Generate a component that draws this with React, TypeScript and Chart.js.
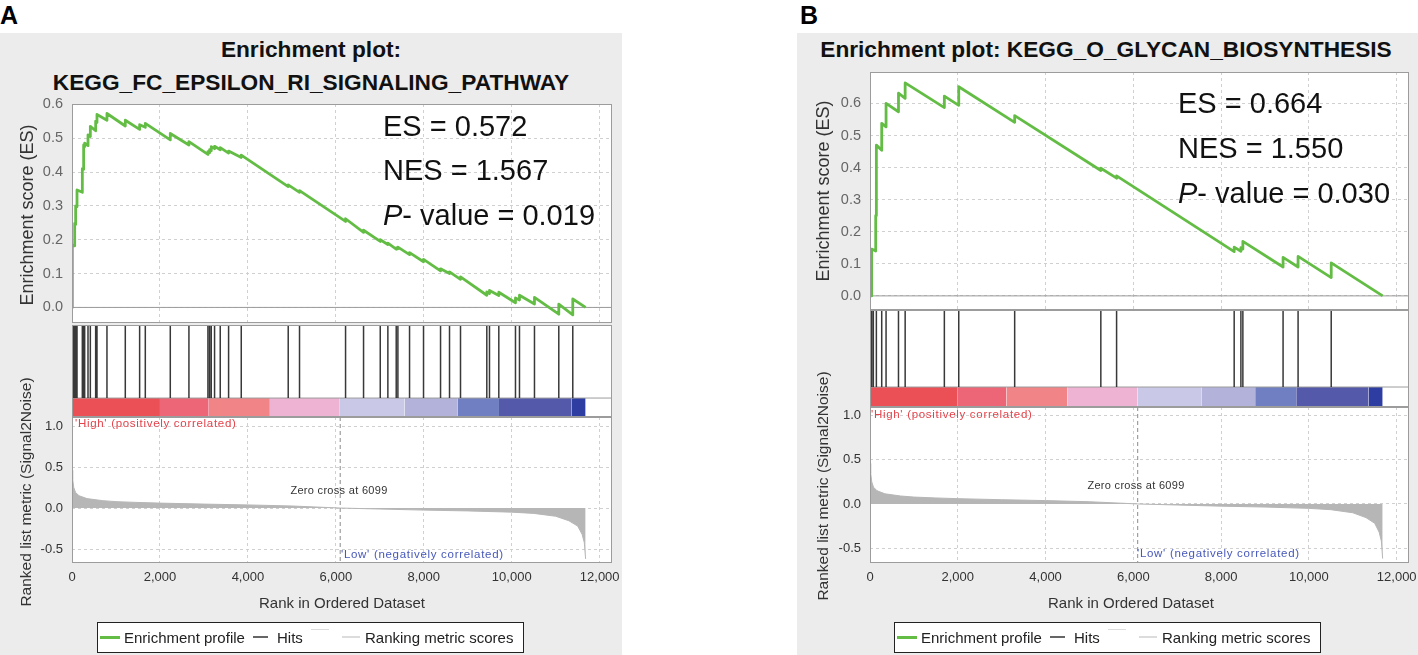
import React, { useEffect, useRef } from "react";
import { Chart, registerables } from "chart.js";

Chart.register(...registerables);

// ---------------- data ----------------
const RANK_MAX = 12280;
const zeroCross = 6099;
const xTickValues = [0, 2000, 4000, 6000, 8000, 10000, 12000];
const xTickLabels = ["0", "2,000", "4,000", "6,000", "8,000", "10,000", "12,000"];
const esTickValues = [0, 0.1, 0.2, 0.3, 0.4, 0.5, 0.6];
const esTickLabels = ["0.0", "0.1", "0.2", "0.3", "0.4", "0.5", "0.6"];
const metricTickValues = [-0.5, 0, 0.5, 1.0];
const metricTickLabels = ["-0.5", "0.0", "0.5", "1.0"];

const titleA = ["Enrichment plot:", "KEGG_FC_EPSILON_RI_SIGNALING_PATHWAY"];
const titleB = ["Enrichment plot: KEGG_O_GLYCAN_BIOSYNTHESIS"];
const statsA = ["0.572", "1.567", "0.019"];
const statsB = ["0.664", "1.550", "0.030"];

// running enrichment score [rank, ES]
const esCurveA: number[][] = [
  [0, 0], [8, 0], [8, 0.184], [61, 0.182], [61, 0.248], [83, 0.245], [83, 0.3], [114, 0.298], [114, 0.347],
  [235, 0.34], [235, 0.41], [265, 0.408], [265, 0.48], [288, 0.475], [288, 0.485], [364, 0.478], [364, 0.51],
  [417, 0.505], [417, 0.535], [538, 0.522], [538, 0.55], [568, 0.546], [568, 0.57], [795, 0.553], [795, 0.573],
  [1212, 0.536], [1212, 0.553], [1538, 0.526], [1538, 0.54], [1667, 0.532], [1667, 0.544], [2235, 0.495],
  [2235, 0.514], [2659, 0.48], [2659, 0.49], [3091, 0.452], [3091, 0.46], [3129, 0.457], [3129, 0.466],
  [3167, 0.463], [3167, 0.475], [3242, 0.469], [3242, 0.476], [3371, 0.466], [3371, 0.472], [3561, 0.456],
  [3561, 0.462], [3849, 0.443], [3849, 0.45], [4917, 0.357], [4917, 0.362], [5174, 0.34], [5174, 0.345],
  [6221, 0.254], [6221, 0.262], [6630, 0.222], [6630, 0.228], [7010, 0.195], [7010, 0.2], [7183, 0.186],
  [7183, 0.19], [7373, 0.172], [7373, 0.176], [7411, 0.173], [7411, 0.178], [7676, 0.156], [7676, 0.162],
  [7994, 0.135], [7994, 0.142], [8381, 0.108], [8381, 0.114], [8585, 0.1], [8585, 0.105], [8835, 0.083],
  [8835, 0.09], [9433, 0.036], [9433, 0.046], [9494, 0.041], [9494, 0.05], [9706, 0.035], [9706, 0.045],
  [10085, 0.014], [10085, 0.028], [10176, 0.022], [10176, 0.036], [10517, 0.01], [10517, 0.03],
  [11070, -0.02], [11070, 0.01], [11388, -0.022], [11388, 0.025], [11680, 0],
];
const hitsA = [
  8, 38, 61, 83, 114, 235, 265, 288, 364, 417, 538, 568, 795, 1212, 1538, 1667, 2235, 2659, 3091, 3129,
  3167, 3242, 3371, 3561, 3849, 4917, 5174, 6221, 6630, 7010, 7183, 7373, 7411, 7676, 7994, 8381, 8585,
  8835, 9433, 9494, 9706, 10085, 10176, 10517, 11070, 11388,
];

const esCurveB: number[][] = [
  [0, 0], [38, 0], [38, 0.146], [130, 0.14], [130, 0.25], [145, 0.25], [145, 0.47], [267, 0.454], [267, 0.538],
  [366, 0.527], [366, 0.6], [649, 0.574], [649, 0.632], [801, 0.616], [801, 0.664], [1694, 0.587], [1694, 0.623],
  [2022, 0.594], [2022, 0.652], [3296, 0.541], [3296, 0.562], [5259, 0.391], [5259, 0.398], [5618, 0.367],
  [5618, 0.374], [8297, 0.138], [8297, 0.152], [8450, 0.139], [8450, 0.15], [8495, 0.146], [8495, 0.17],
  [9411, 0.09], [9411, 0.12], [9753, 0.09], [9753, 0.123], [10508, 0.057], [10508, 0.103], [11680, 0],
];
const hitsB = [38, 76, 145, 267, 366, 649, 801, 1694, 2022, 3296, 5259, 5618, 8297, 8450, 8495, 9411, 9753, 10508];

// ranked list metric (Signal2Noise) [rank, value]
const metricCurve: number[][] = [
  [0, 0.46], [15, 0.35], [40, 0.25], [80, 0.19], [160, 0.15], [340, 0.115], [700, 0.09], [1000, 0.078],
  [1500, 0.068], [2000, 0.06], [3000, 0.048], [4000, 0.038], [5000, 0.025], [6099, 0.0], [7000, -0.012],
  [8000, -0.025], [9000, -0.035], [10000, -0.05], [10500, -0.065], [11000, -0.1], [11300, -0.155],
  [11500, -0.22], [11600, -0.32], [11650, -0.42], [11680, -0.62],
];

// colour bar segment edges (ranks)
const barEdges = [0, 2000, 3110, 4500, 6090, 7560, 8775, 9710, 11355, 11680];

// ---------------- styles ----------------
const FONT = "'Liberation Sans', Arial, Helvetica, sans-serif";
const GREEN = "#63bd45";
const BAR_COLORS = ["#eb5057", "#ec6678", "#f08486", "#eeb2d3", "#c9c9e7", "#b2b2db", "#6f7fc1", "#5559a9", "#2d3da1"];
const P = 34;
const AW = 60;
const XH = 30;
const BAR_TOP = 0.206;
const GRID = "#d0d0d0";

Chart.defaults.font.family = FONT;

type Box = { l: number; t: number; r: number; b: number };

const bgPlugin = {
  id: "plotBg",
  beforeDraw(chart: any) {
    const { ctx, chartArea: a } = chart;
    ctx.save();
    ctx.fillStyle = "#ffffff";
    ctx.fillRect(a.left, a.top, a.right - a.left, a.bottom - a.top);
    ctx.restore();
  },
};
const framePlugin = {
  id: "plotFrame",
  afterDraw(chart: any) {
    const { ctx, chartArea: a } = chart;
    ctx.save();
    ctx.strokeStyle = "#9c9c9c";
    ctx.lineWidth = 1;
    ctx.strokeRect(Math.round(a.left) + 0.5, Math.round(a.top) + 0.5, Math.round(a.right - a.left) - 1, Math.round(a.bottom - a.top) - 1);
    ctx.restore();
  },
};

function xScale(showLabels: boolean, showGrid: boolean, xh: number) {
  return {
    type: "linear",
    min: 0,
    max: RANK_MAX,
    afterBuildTicks: (s: any) => {
      s.ticks = xTickValues.map((v) => ({ value: v }));
    },
    afterFit: (s: any) => {
      s.height = xh;
    },
    ticks: {
      display: showLabels,
      autoSkip: false,
      maxRotation: 0,
      padding: 7,
      color: "#333",
      font: { size: 13, family: FONT },
      callback: (_v: any, i: number) => xTickLabels[i],
    },
    grid: { display: showGrid, color: GRID, lineWidth: 1, drawTicks: false },
    border: { display: false, dash: [3, 3] },
  };
}

function yScale(min: number, max: number, vals: number[], labels: string[], show: boolean, color: string, size: number) {
  return {
    type: "linear",
    min,
    max,
    afterBuildTicks: (s: any) => {
      s.ticks = vals.map((v) => ({ value: v }));
    },
    afterFit: (s: any) => {
      s.width = AW;
    },
    ticks: {
      display: show,
      padding: 9,
      color,
      font: { size, family: FONT },
      callback: (_v: any, i: number) => labels[i],
    },
    grid: { display: show, color: GRID, lineWidth: 1, drawTicks: false },
    border: { display: false, dash: [3, 3] },
  };
}

function baseOptions(x: any, y: any) {
  return {
    responsive: false,
    maintainAspectRatio: false,
    animation: false,
    events: [],
    layout: { padding: P },
    plugins: { legend: { display: false }, tooltip: { enabled: false }, title: { display: false } },
    elements: { point: { radius: 0 }, line: { tension: 0 } },
    scales: { x, y },
  };
}

function esConfig(g: any, curve: number[][]): any {
  return {
    type: "line",
    data: {
      datasets: [
        {
          data: curve.map(([r, v]) => ({ x: r, y: v })),
          borderColor: GREEN,
          borderWidth: 2.8,
          borderJoinStyle: "round",
          pointRadius: 0,
          fill: false,
        },
        {
          data: [{ x: 0, y: 0 }, { x: RANK_MAX, y: 0 }],
          borderColor: "#9a9a9a",
          borderWidth: 1,
          pointRadius: 0,
          fill: false,
        },
      ],
    },
    options: baseOptions(xScale(false, true, 0), yScale(g.esMin, g.esMax, esTickValues, esTickLabels, true, "#666", 14.5)),
    plugins: [bgPlugin, framePlugin],
  };
}

function hitsConfig(hits: number[]): any {
  const hitData: any[] = [];
  hits.forEach((h) => {
    hitData.push({ x: h, y: BAR_TOP }, { x: h, y: 1 }, { x: h, y: null });
  });
  const segs = BAR_COLORS.map((c, i) => ({
    data: [{ x: barEdges[i], y: BAR_TOP }, { x: barEdges[i + 1], y: BAR_TOP }],
    borderColor: c,
    borderWidth: 0,
    backgroundColor: c,
    fill: { value: 0 },
    pointRadius: 0,
  }));
  return {
    type: "line",
    data: {
      datasets: [
        { data: hitData, borderColor: "rgba(35,35,35,0.9)", borderWidth: 1.5, pointRadius: 0, fill: false, spanGaps: false },
        { data: [{ x: 0, y: BAR_TOP }, { x: RANK_MAX, y: BAR_TOP }], borderColor: "#9c9c9c", borderWidth: 1, pointRadius: 0, fill: false },
        ...segs,
      ],
    },
    options: baseOptions(xScale(false, false, 0), yScale(0, 1, [], [], false, "#333", 13)),
    plugins: [bgPlugin, framePlugin],
  };
}

function metricConfig(g: any): any {
  return {
    type: "line",
    data: {
      datasets: [
        {
          data: [{ x: zeroCross, y: g.metMax }, { x: zeroCross, y: g.metMin }],
          borderColor: "#8a8a8a",
          borderWidth: 1,
          borderDash: [4, 3],
          pointRadius: 0,
          fill: false,
        },
        {
          data: metricCurve.map(([r, v]) => ({ x: r, y: v })),
          borderColor: "#b6b6b6",
          backgroundColor: "#b6b6b6",
          borderWidth: 1,
          pointRadius: 0,
          fill: "origin",
        },
      ],
    },
    options: baseOptions(xScale(true, true, XH), yScale(g.metMin, g.metMax, metricTickValues, metricTickLabels, true, "#333", 13)),
    plugins: [bgPlugin, framePlugin],
  };
}

function canvasBox(b: Box, xh: number) {
  return {
    left: b.l - AW - P,
    top: b.t - P,
    width: b.r - b.l + AW + 2 * P,
    height: b.b - b.t + 2 * P + xh,
  };
}

function Label(props: any) {
  const { x, y, size, color = "#222", bold = false, center = false, rotate = false, spacing = 0, children } = props;
  let transform = center ? "translate(-50%, -50%)" : "translateY(-50%)";
  if (rotate) transform = "translate(-50%, -50%) rotate(-90deg)";
  return (
    <div
      style={{
        position: "absolute",
        left: x,
        top: y,
        transform,
        fontFamily: FONT,
        fontSize: size,
        fontWeight: bold ? 700 : 400,
        color,
        lineHeight: 1,
        whiteSpace: "nowrap",
        letterSpacing: spacing,
      }}
    >
      {children}
    </div>
  );
}

function LegendLine({ x, y, w, h, color }: any) {
  return <div style={{ position: "absolute", left: x, top: y - h / 2, width: w, height: h, background: color }} />;
}

function Legend({ x, y }: any) {
  return (
    <div
      style={{
        position: "absolute",
        left: x,
        top: y,
        width: 427,
        height: 31,
        boxSizing: "border-box",
        border: "1.5px solid #222",
        background: "#fff",
      }}
    >
      <LegendLine x={2} y={14} w={20} h={3} color={GREEN} />
      <Label x={26} y={14} size={15} color="#222">Enrichment profile</Label>
      <LegendLine x={155} y={14} w={15} h={2} color="#666" />
      <Label x={179} y={14} size={15} color="#222">Hits</Label>
      <LegendLine x={213} y={6} w={18} h={1} color="#dcdcdc" />
      <LegendLine x={244} y={14} w={18} h={2} color="#dcdcdc" />
      <Label x={267} y={14} size={15} color="#222">Ranking metric scores</Label>
    </div>
  );
}

function Panel({ g, title, esCurve, hits, stats }: any) {
  const esRef = useRef<HTMLCanvasElement>(null);
  const hitsRef = useRef<HTMLCanvasElement>(null);
  const metRef = useRef<HTMLCanvasElement>(null);

  useEffect(() => {
    const charts = [
      new Chart(esRef.current as HTMLCanvasElement, esConfig(g, esCurve)),
      new Chart(hitsRef.current as HTMLCanvasElement, hitsConfig(hits)),
      new Chart(metRef.current as HTMLCanvasElement, metricConfig(g)),
    ];
    return () => charts.forEach((c) => c.destroy());
  }, []);

  const esBox = canvasBox(g.es, 0);
  const hitsBox = canvasBox(g.hits, 0);
  const metBox = canvasBox(g.metric, XH);
  const cv = (b: any) => ({ position: "absolute" as const, left: b.left, top: b.top, width: b.width, height: b.height });

  return (
    <>
      <div style={{ position: "absolute", left: g.bg.l, top: g.bg.t, width: g.bg.w, height: g.bg.h, background: "#ececec" }} />
      <Label x={g.label.x} y={g.label.y} size={25} bold color="#000">{g.label.text}</Label>
      {title.map((t: string, i: number) => (
        <Label key={i} x={g.titleX} y={g.titleY[i]} size={22.7} bold center color="#111">{t}</Label>
      ))}
      <canvas ref={esRef} width={esBox.width} height={esBox.height} style={cv(esBox)} />
      <canvas ref={hitsRef} width={hitsBox.width} height={hitsBox.height} style={cv(hitsBox)} />
      <canvas ref={metRef} width={metBox.width} height={metBox.height} style={cv(metBox)} />
      <Label x={g.stats.x} y={g.stats.y[0]} size={29} color="#111">ES = {stats[0]}</Label>
      <Label x={g.stats.x} y={g.stats.y[1]} size={29} color="#111">NES = {stats[1]}</Label>
      <Label x={g.stats.x} y={g.stats.y[2]} size={29} color="#111"><i>P</i>- value = {stats[2]}</Label>
      <Label x={g.esTitle.x} y={g.esTitle.y} size={18} rotate color="#333">Enrichment score (ES)</Label>
      <Label x={g.metricTitle.x} y={g.metricTitle.y} size={15.5} rotate color="#333">Ranked list metric (Signal2Noise)</Label>
      <Label x={g.xTitle.x} y={g.xTitle.y} size={15} center color="#333">Rank in Ordered Dataset</Label>
      <Label x={g.high.x} y={g.high.y} size={11.5} spacing={0.7} color="#e4434b">'High' (positively correlated)</Label>
      <Label x={g.zero.x} y={g.zero.y} size={11} spacing={0.3} center color="#333">Zero cross at {zeroCross}</Label>
      <Label x={g.low.x} y={g.low.y} size={11.5} spacing={0.7} color="#4658bb">'Low' (negatively correlated)</Label>
      <Legend x={g.legend.x} y={g.legend.y} />
    </>
  );
}

const GEOM_A = {
  bg: { l: 0, t: 33, w: 622, h: 622 },
  label: { text: "A", x: 0, y: 15 },
  titleX: 311,
  titleY: [49, 82],
  es: { l: 72, t: 104, r: 612, b: 323 },
  esMin: -0.046,
  esMax: 0.601,
  hits: { l: 72, t: 325, r: 612, b: 417 },
  metric: { l: 72, t: 417, r: 612, b: 563 },
  metMin: -0.67,
  metMax: 1.11,
  stats: { x: 383, y: [126, 170, 215] },
  esTitle: { x: 27, y: 215 },
  metricTitle: { x: 26, y: 492 },
  xTitle: { x: 342, y: 602 },
  high: { x: 75, y: 424 },
  zero: { x: 339, y: 490 },
  low: { x: 341, y: 555 },
  legend: { x: 97, y: 622 },
};

const GEOM_B = {
  bg: { l: 797, t: 33, w: 621, h: 622 },
  label: { text: "B", x: 800, y: 15 },
  titleX: 1106,
  titleY: [49],
  es: { l: 870, t: 72, r: 1409, b: 310 },
  esMin: -0.044,
  esMax: 0.698,
  hits: { l: 870, t: 310, r: 1409, b: 407 },
  metric: { l: 870, t: 407, r: 1409, b: 563 },
  metMin: -0.67,
  metMax: 1.1,
  stats: { x: 1178, y: [103, 148, 193] },
  esTitle: { x: 823, y: 191 },
  metricTitle: { x: 823, y: 486 },
  xTitle: { x: 1131, y: 602 },
  high: { x: 871, y: 415 },
  zero: { x: 1136, y: 485 },
  low: { x: 1137, y: 554 },
  legend: { x: 894, y: 622 },
};

export default function App() {
  return (
    <div style={{ position: "absolute", left: 0, top: 0, width: 1418, height: 655, background: "#fff", overflow: "hidden" }}>
      <Panel g={GEOM_A} title={titleA} esCurve={esCurveA} hits={hitsA} stats={statsA} />
      <Panel g={GEOM_B} title={titleB} esCurve={esCurveB} hits={hitsB} stats={statsB} />
    </div>
  );
}
